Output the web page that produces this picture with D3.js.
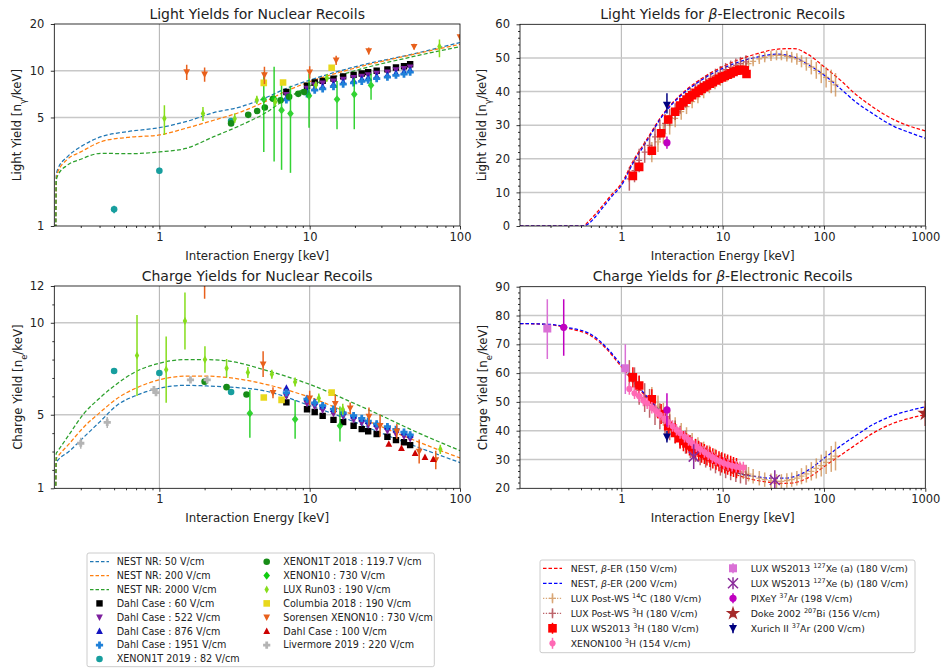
<!DOCTYPE html>
<html>
<head>
<meta charset="utf-8">
<script src="https://cdn.jsdelivr.net/npm/d3@7"></script>
<style>
  body { margin: 0; background: #fff; }
  svg { font-family: "DejaVu Sans", sans-serif; }
</style>
</head>
<body>
<svg width="941" height="671"></svg>
<script>
const svg = d3.select('svg');

// ---------------- NEST model curves ----------------
const nrLyE = [0.2045, 0.206, 0.21, 0.245, 0.30, 0.41, 0.61, 1.0, 1.5, 2.3, 3.5, 5, 7, 10, 20, 50, 100];
const nestNr50Ly = [0.8, 2.1, 2.3, 2.8, 3.24, 3.76, 4.05, 4.3, 4.7, 5.37, 5.87, 6.64, 7.7, 8.7, 10.6, 12.9, 15.2];
const nestNr200Ly = [0.8, 2.0, 2.2, 2.69, 3.0, 3.49, 3.72, 3.86, 4.26, 4.8, 5.44, 6.3, 7.4, 8.5, 10.4, 12.8, 14.8];
const nestNr2000Ly = [0.8, 1.95, 2.1, 2.47, 2.69, 2.94, 2.92, 3.0, 3.16, 3.76, 4.47, 5.3, 6.6, 7.96, 10.0, 12.4, 14.3];

const nrQyE = [0.2045, 0.206, 0.21, 0.25, 0.316, 0.4, 0.526, 0.7, 1.0, 1.5, 2.0, 3.0, 5.0, 10, 20, 30, 50, 100];
const nestNr50Qy = [0.8, 2.4, 2.5, 3.0, 3.8, 4.6, 5.53, 6.05, 6.44, 6.6, 6.57, 6.5, 6.3, 5.5, 4.6, 4.0, 3.3, 2.4];
const nestNr200Qy = [0.8, 2.6, 2.7, 3.4, 4.35, 5.1, 5.9, 6.45, 6.9, 7.1, 7.1, 7.0, 6.67, 5.95, 4.95, 4.35, 3.6, 2.65];
const nestNr2000Qy = [0.8, 2.9, 3.0, 3.9, 5.08, 5.9, 6.7, 7.35, 7.8, 8.0, 8.0, 7.9, 7.44, 6.65, 5.6, 4.95, 4.1, 3.05];

const erLyE = [0.1, 0.42, 0.47, 0.55, 0.65, 0.8, 1.0, 1.3, 1.77, 2.58, 3.77, 5.5, 10, 21.6, 35, 50, 70, 100, 150, 200, 300, 500, 700, 1000];
const nestEr150Ly = [0, 0, 1.2, 3.4, 6.0, 9.3, 12.6, 19.2, 25.6, 33.3, 38.8, 42.8, 47.4, 51.2, 52.6, 52.8, 51, 47.4, 43.0, 39.5, 35.5, 31.5, 29.7, 28.3];
const nestEr200Ly = [0, 0, 0.6, 2.6, 5.3, 8.7, 12.0, 18.6, 25.1, 33, 38.5, 42.4, 46.9, 50.2, 51.1, 50.3, 48, 44.9, 40.5, 37.2, 33.5, 29.5, 27.8, 26.1];

const erQyE = [0.1, 0.2, 0.3, 0.5, 0.7, 1.0, 1.5, 2.0, 3.0, 5.0, 7.0, 10, 15, 20, 30, 40, 50, 70, 100, 150, 200, 300, 500, 700, 1000];
const nestEr150Qy = [77.2, 76.8, 75.5, 73.0, 68.7, 62.2, 54.5, 49.5, 43.0, 35.0, 30.6, 27.0, 24.2, 23.0, 22.0, 21.7, 21.9, 23.7, 27.5, 31.8, 34.8, 39.0, 42.8, 44.3, 45.6];
const nestEr200Qy = [77.2, 76.9, 75.8, 73.5, 69.2, 62.8, 55.0, 50.0, 43.5, 35.5, 31.2, 27.6, 25.0, 24.2, 23.5, 23.5, 24.0, 26.3, 30.4, 35.0, 38.0, 42.0, 45.5, 47.0, 48.3];

// ---------------- nuclear recoil data ----------------
const dahlE = [7.0, 9.6, 10.8, 12.2, 14.4, 16.7, 19.6, 22.2, 24.5, 27.9, 32.9, 37.5, 42.4, 46.6];
const dahl60Ly = [7.3, 8.0, 8.4, 8.6, 8.9, 9.2, 9.4, 9.6, 9.8, 10.0, 10.2, 10.5, 10.7, 11.0];
const dahl522Ly = [7.0, 7.7, 8.1, 8.3, 8.55, 8.8, 9.0, 9.2, 9.4, 9.6, 9.8, 10.1, 10.3, 10.55];
const dahl876Ly = [6.7, 7.4, 7.7, 7.9, 8.2, 8.45, 8.65, 8.85, 9.0, 9.2, 9.4, 9.65, 9.85, 10.1];
const dahl1951Ly = [6.5, 7.1, 7.5, 7.65, 7.9, 8.2, 8.35, 8.55, 8.7, 8.9, 9.1, 9.35, 9.5, 9.8];
const dahl60Qy = [5.67, 5.3, 5.15, 4.94, 4.72, 4.6, 4.4, 4.22, 4.1, 3.95, 3.8, 3.62, 3.5, 3.35];
const dahl522Qy = [6.0, 5.6, 5.45, 5.25, 5.05, 4.9, 4.72, 4.55, 4.43, 4.28, 4.12, 3.95, 3.82, 3.68];
const dahl876Qy = [6.45, 5.9, 5.7, 5.5, 5.3, 5.15, 4.95, 4.78, 4.65, 4.5, 4.35, 4.18, 4.05, 3.9];
const dahl1951Qy = [6.2, 5.85, 5.65, 5.5, 5.3, 5.1, 4.95, 4.8, 4.65, 4.5, 4.35, 4.2, 4.05, 3.9];

const x1t19E = [0.5, 1.0, 3.0];
const x1t19Ly = [1.28, 2.27, 4.75];
const x1t19LyErr = [0.07, 0.1, 0.2];
const x1t19Qy = [7.38, 7.27, 6.24];

const x1t18LyE = [3.0, 3.9, 4.47, 5.03, 5.7, 6.4, 7.3, 8.4, 9.2];
const x1t18Ly = [4.58, 5.2, 5.5, 5.8, 6.6, 6.45, 6.8, 7.1, 7.3];
const x1t18QyE = [2.0, 2.8, 3.8];
const x1t18Qy = [6.8, 6.5, 6.1];

const xe10LyE = [4.95, 5.8, 6.5, 7.45, 9.9, 15.2, 19.8, 25.6];
const xe10Ly = [6.54, 6.6, 5.57, 5.3, 6.9, 6.54, 7.05, 8.05];
const xe10LyLo = [3.0, 2.6, 2.3, 2.2, 4.3, 4.2, 4.2, 6.5];
const xe10LyHi = [9.8, 10.6, 8.4, 8.0, 9.6, 8.6, 9.0, 9.6];
const xe10QyE = [4.0, 8.0, 15.9];
const xe10Qy = [5.08, 4.75, 4.4];
const xe10QyLo = [3.75, 3.7, 3.55];
const xe10QyHi = [6.35, 5.8, 5.45];

const luxR3LyE = [1.08, 1.95, 3.17, 4.45, 5.9, 11.0, 13.0, 73];
const luxR3Ly = [4.93, 5.3, 4.9, 6.47, 6.3, 8.08, 9.0, 14.3];
const luxR3LyLo = [3.85, 4.75, 4.6, 6.1, 5.9, 7.7, 8.5, 12.2];
const luxR3LyHi = [6.0, 5.85, 5.3, 6.9, 6.7, 8.5, 9.5, 15.9];
const luxR3QyE = [0.71, 1.11, 1.48, 2.01, 2.8, 3.88, 5.6, 8.0, 11.5, 16.6, 74];
const luxR3Qy = [8.22, 7.45, 10.1, 8.0, 7.53, 7.3, 7.2, 6.78, 5.9, 5.3, 3.12];
const luxR3QyErr = [2.2, 1.8, 1.55, 0.72, 0.5, 0.3, 0.25, 0.25, 0.25, 0.3, 0.25];

const columbiaLyE = [4.95, 6.65, 14];
const columbiaLy = [8.35, 8.4, 10.45];
const columbiaQyE = [4.95, 6.5, 14];
const columbiaQy = [5.94, 5.81, 6.2];

const sorensenLyE = [1.52, 2.0, 5.0, 10, 15, 24.7, 49.5, 100];
const sorensenLy = [9.83, 9.5, 9.4, 9.8, 11.7, 13.4, 14.3, 16.5];
const sorensenLyErr = [1.1, 1.0, 1.2, 0.9, 0.8, 0.7, 0.6, 0.6];
const sorensenQyE = [2.0, 4.9, 5.7, 10.0, 14.8, 18.6, 24.8, 29.4, 38, 53.5, 69];
const sorensenQy = [12.6, 7.75, 6.2, 5.9, 5.6, 5.36, 4.9, 4.4, 4.1, 3.0, 2.54];
const sorensenQyErr = [1.3, 0.7, 0.3, 0.4, 0.5, 0.3, 0.5, 0.6, 0.4, 0.65, 0.5];

const dahl100QyE = [33.6, 40.8, 50.3, 58.5, 66.4];
const dahl100Qy = [3.41, 3.18, 2.9, 2.69, 2.58];

const livermoreQyE = [0.30, 0.45, 0.92, 0.95, 1.61, 2.08];
const livermoreQy = [3.45, 4.58, 6.36, 6.2, 6.9, 6.9];
const livermoreQyErr = [0.3, 0.3, 0.15, 0.15, 0.1, 0.1];

// ---------------- electronic recoil data ----------------
const c14E = [2, 2.3, 2.6, 3, 3.4, 3.9, 4.4, 5, 5.7, 6.5, 7.4, 8.4, 9.5, 11, 12.5, 14, 16, 18, 20, 23, 26, 30, 34, 38, 43, 48, 54, 60, 67, 75, 84, 94, 105, 118, 130];
const c14Ly = [22, 25, 27.5, 30, 32, 34, 35.5, 37, 38.5, 40, 41.3, 42.5, 43.5, 44.5, 45.5, 46.5, 47.5, 48.3, 49, 49.7, 50.2, 50.6, 50.8, 50.8, 50.5, 50.2, 49.7, 49, 48.2, 47.3, 46.3, 45.3, 44.2, 43, 42];
const c14LyErr = [3, 3, 3, 2.8, 2.6, 2.4, 2.2, 2, 2, 2, 1.8, 1.8, 1.8, 1.6, 1.6, 1.6, 1.5, 1.5, 1.5, 1.5, 1.5, 1.5, 1.5, 1.5, 1.6, 1.6, 1.7, 1.8, 2, 2.2, 2.5, 2.8, 3, 3.5, 3.5];
const c14Qy = [51.2, 48.2, 45.7, 43.2, 41.2, 39.2, 37.7, 36.2, 34.7, 33.2, 31.9, 30.7, 29.7, 28.7, 27.7, 26.7, 25.7, 24.9, 24.2, 23.5, 23.0, 22.6, 22.4, 22.4, 22.7, 23.0, 23.5, 24.2, 25.0, 25.9, 26.9, 27.9, 29.0, 30.2, 31.2];
const c14QyErr = [4, 4, 4, 4, 3.5, 3.5, 3.5, 3, 3, 3, 3, 3, 2.5, 2.5, 2.5, 2.5, 2.5, 2.5, 2.5, 2.5, 2.5, 2.5, 2.5, 2.5, 2.5, 2.5, 2.5, 2.8, 3, 3.2, 3.5, 3.8, 4, 4.5, 5];

const h3pE = [1.2, 1.35, 1.5, 1.7, 1.9, 2.15, 2.4, 2.7, 3.0, 3.4, 3.8, 4.3, 4.8, 5.4, 6.0, 6.8, 7.6, 8.5, 9.5, 10.7, 12, 13.5, 15, 17];
const h3pLy = [14, 16.5, 19.5, 22, 24, 26.5, 28.5, 30.5, 32.3, 34, 35.8, 37.5, 39, 40.3, 41.5, 42.8, 43.8, 44.8, 45.6, 46.5, 47.2, 47.8, 48.3, 48.8];
const h3pLyErr = [3.5, 3.5, 3.5, 3.2, 3, 3, 3, 2.8, 2.6, 2.5, 2.4, 2.3, 2.2, 2.1, 2, 2, 2, 2, 2, 2, 2, 2, 2, 2];
const h3pQy = [59.5, 57, 54, 51.5, 49.5, 47, 45, 43, 41.2, 39.5, 37.7, 36, 34.5, 33.2, 32, 30.7, 29.7, 28.7, 27.9, 27, 26.3, 25.7, 25.2, 24.7];
const h3pQyErr = [5, 5, 5, 5, 5, 5, 4.5, 4.5, 4.5, 4, 4, 4, 4, 4, 4, 3.5, 3.5, 3.5, 3.5, 3.5, 3.5, 3.5, 3.5, 3.5];

const t13LyE = [1.3, 1.5, 2.0, 2.47, 2.9, 3.4, 3.8, 4.1, 4.4, 4.7, 5.0, 5.4, 5.8, 6.2, 6.6, 7.0, 7.5, 8.0, 8.6, 9.2, 9.8, 10.5, 11.2, 12, 12.8, 13.7, 14.6, 15.6, 16.5, 17.2];
const t13Ly = [14.9, 17.6, 22.4, 27.6, 31.7, 34, 35.8, 36.8, 37.6, 38.3, 38.9, 39.6, 40.2, 40.8, 41.3, 41.8, 42.3, 42.8, 43.3, 43.8, 44.2, 44.6, 45, 45.4, 45.8, 46.2, 46.4, 46.5, 46.3, 45.2];
const t13QyE = [1.3, 1.5, 2.0, 2.47, 2.9, 3.4, 3.8, 4.1, 4.4, 4.7, 5.0, 5.4, 5.8, 6.2, 6.6, 7.0, 7.5, 8.0, 8.6, 9.2, 9.8, 10.5, 11.2, 12, 12.8, 13.7];
const t13Qy = [58.5, 55.7, 50.9, 45.8, 41.6, 39.2, 37.4, 36.4, 35.6, 34.9, 34.3, 33.6, 33.0, 32.4, 31.9, 31.4, 30.9, 30.4, 29.9, 29.4, 29.0, 28.6, 28.2, 27.8, 27.4, 27.0];

const x100E = [1.2, 1.35, 1.5, 1.65, 1.8, 2.0, 2.2, 2.4, 2.65, 2.9, 3.2, 3.5, 3.8, 4.2, 4.6, 5.0, 5.5, 6.0, 6.6, 7.2, 7.9, 8.6, 9.4, 10.3, 11.3, 12.4, 13.6, 14.8, 16];
const x100Qy = [54.5, 53, 52, 50.5, 49.5, 48, 46.8, 45.5, 44.2, 43, 41.6, 40.3, 39.2, 37.9, 36.8, 35.7, 34.6, 33.6, 32.6, 31.7, 30.8, 30.0, 29.3, 28.7, 28.2, 27.8, 27.5, 27.3, 27.2];

const xe127aE = [0.186, 1.095];
const xe127aQy = [75.5, 61.7];
const xe127aLo = [64.9, 52.7];
const xe127aHi = [85.6, 70];
const xe127bE = [5.18, 32.7];
const xe127bQy = [31.0, 22.9];
const xe127bErr = [4.3, 3.4];

const pixeyLyE = [2.82];
const pixeyLy = [24.8];
const pixeyLyErr = [1.8];
const pixeyQyE = [0.27, 2.82];
const pixeyQy = [75.9, 47.2];
const pixeyQyLo = [66, 41.4];
const pixeyQyHi = [85.6, 53];

const dokeE = [1000];
const dokeQy = [46];
const dokeErr = [4.4];

const xurichE = [2.82];
const xurichLy = [36];
const xurichLyLo = [33.5];
const xurichLyHi = [39.5];
const xurichQy = [37.9];
const xurichQyErr = [2];

// ---------------- helpers ----------------
function markerPath(shape, r) {
  switch (shape) {
    case 'square': return `M${-r},${-r}H${r}V${r}H${-r}Z`;
    case 'circle': return d3.symbol(d3.symbolCircle, Math.PI * r * r)();
    case 'triUp': return `M0,${-r * 1.1}L${r},${r * 0.8}L${-r},${r * 0.8}Z`;
    case 'triDown': return `M0,${r * 1.1}L${r},${-r * 0.8}L${-r},${-r * 0.8}Z`;
    case 'diamond': return `M0,${-r * 1.25}L${r},0L0,${r * 1.25}L${-r},0Z`;
    case 'thinDiamond': return `M0,${-r * 1.2}L${r * 0.65},0L0,${r * 1.2}L${-r * 0.65},0Z`;
    case 'plusFilled': {
      const w = r / 2.6;
      return `M${-w},${-r}H${w}V${-w}H${r}V${w}H${w}V${r}H${-w}V${w}H${-r}V${-w}H${-w}Z`;
    }
    case 'star': return d3.symbol(d3.symbolStar, r * r * 2.6)();
    case 'x': return `M${-r},${-r}L${r},${r}M${-r},${r}L${r},${-r}`;
    case 'plus': return `M${-r},0H${r}M0,${-r}V${r}`;
  }
}
const strokeShapes = ['x', 'plus'];

function drawSet(g, sx, sy, e, v, s) {
  const grp = g.append('g').attr('opacity', s.opacity || 1);
  if (s.err || s.lo) {
    grp.selectAll(null).data(e).join('line')
      .attr('x1', d => sx(d)).attr('x2', d => sx(d))
      .attr('y1', (d, i) => sy(s.lo ? s.lo[i] : v[i] - s.err[i]))
      .attr('y2', (d, i) => sy(s.hi ? s.hi[i] : v[i] + s.err[i]))
      .attr('stroke', s.color)
      .attr('stroke-width', s.bw || 1.5);
  }
  const stroke = strokeShapes.includes(s.shape);
  grp.selectAll(null).data(e).join('path')
    .attr('transform', (d, i) => `translate(${sx(d)},${sy(v[i])})`)
    .attr('d', markerPath(s.shape, s.r))
    .attr('fill', stroke ? 'none' : s.color)
    .attr('stroke', stroke ? s.color : 'none')
    .attr('stroke-width', stroke ? (s.sw || 1.3) : 0);
}

function drawCurve(g, sx, sy, e, v, color, dash) {
  const line = d3.line()
    .x(d => sx(d[0]))
    .y(d => sy(d[1]))
    .curve(d3.curveMonotoneX);
  g.append('path')
    .datum(e.map((d, i) => [d, v[i]]))
    .attr('d', line)
    .attr('fill', 'none')
    .attr('stroke', color)
    .attr('stroke-width', 1.25)
    .attr('stroke-dasharray', dash);
}

let clipId = 0;
function panel(o) {
  const sx = d3.scaleLog().domain(o.xDomain).range([o.x0, o.x1]);
  const sy = (o.yLog ? d3.scaleLog() : d3.scaleLinear()).domain(o.yDomain).range([o.y1, o.y0]);

  const g = svg.append('g');

  // grid
  const grid = g.append('g');
  grid.selectAll(null).data(o.gridX).join('line')
    .attr('x1', d => sx(d)).attr('x2', d => sx(d))
    .attr('y1', o.y0).attr('y2', o.y1)
    .attr('stroke', '#b0b0b0').attr('stroke-width', 1);
  grid.selectAll(null).data(o.gridY).join('line')
    .attr('x1', o.x0).attr('x2', o.x1)
    .attr('y1', d => sy(d)).attr('y2', d => sy(d))
    .attr('stroke', '#c8c8c8').attr('stroke-width', 1.5);

  // clipped plot area
  const id = 'clip' + (clipId++);
  g.append('clipPath').attr('id', id)
    .append('rect')
    .attr('x', o.x0).attr('y', o.y0)
    .attr('width', o.x1 - o.x0).attr('height', o.y1 - o.y0);
  const plot = g.append('g').attr('clip-path', `url(#${id})`);

  // axes
  const styleAxis = (ax) => {
    ax.select('.domain').remove();
    ax.attr('font-family', '"DejaVu Sans", sans-serif').attr('font-size', 11.5);
    ax.selectAll('line').attr('stroke', '#000').attr('stroke-width', 0.8);
    ax.selectAll('text').attr('fill', '#222');
  };
  const axX = g.append('g').attr('transform', `translate(0,${o.y1})`)
    .call(d3.axisBottom(sx).tickValues(o.xMajor).tickSize(3.5).tickPadding(3.5).tickFormat(d3.format('~g')));
  styleAxis(axX);
  const axXm = g.append('g').attr('transform', `translate(0,${o.y1})`)
    .call(d3.axisBottom(sx).tickValues(o.xMinor).tickSize(2).tickFormat(''));
  styleAxis(axXm);
  const axY = g.append('g').attr('transform', `translate(${o.x0},0)`)
    .call(d3.axisLeft(sy).tickValues(o.yMajor).tickSize(3.5).tickPadding(6.5).tickFormat(d3.format('~g')));
  styleAxis(axY);
  if (o.yMinor.length) {
    const axYm = g.append('g').attr('transform', `translate(${o.x0},0)`)
      .call(d3.axisLeft(sy).tickValues(o.yMinor).tickSize(2).tickFormat(''));
    styleAxis(axYm);
  }

  // title
  const t = g.append('text')
    .attr('x', (o.x0 + o.x1) / 2).attr('y', o.y0 - 5.5)
    .attr('text-anchor', 'middle').attr('font-size', 14).attr('fill', '#222');
  o.title.forEach(seg => {
    const ts = t.append('tspan').text(seg[0]);
    if (seg[1] === 'i') ts.attr('font-style', 'italic');
  });

  // x label
  g.append('text')
    .attr('x', (o.x0 + o.x1) / 2).attr('y', o.y1 + 33.5)
    .attr('text-anchor', 'middle').attr('font-size', 11.8).attr('fill', '#222')
    .text('Interaction Energy [keV]');

  // y label
  const yl = g.append('text')
    .attr('transform', `translate(${o.ylx},${(o.y0 + o.y1) / 2}) rotate(-90)`)
    .attr('dy', '0.35em')
    .attr('text-anchor', 'middle').attr('font-size', 11.8).attr('fill', '#222');
  yl.append('tspan').text(o.ylabel[0] + ' [n');
  yl.append('tspan').text(o.ylabel[1]).attr('baseline-shift', 'sub').attr('font-size', 8.3);
  yl.append('tspan').text('/keV]');

  const frame = g.append('rect')
    .attr('x', o.x0).attr('y', o.y0)
    .attr('width', o.x1 - o.x0).attr('height', o.y1 - o.y0)
    .attr('fill', 'none').attr('stroke', '#000').attr('stroke-width', 0.8);

  return { sx, sy, plot, g, frame };
}

const minorNr = [0.3, 0.4, 0.5, 0.6, 0.7, 0.8, 0.9, 2, 3, 4, 5, 6, 7, 8, 9, 20, 30, 40, 50, 60, 70, 80, 90];
const minorEr = [0.2, 0.3, 0.4, 0.5, 0.6, 0.7, 0.8, 0.9, 2, 3, 4, 5, 6, 7, 8, 9, 20, 30, 40, 50, 60, 70, 80, 90,
  200, 300, 400, 500, 600, 700, 800, 900];

// ---------------- panels ----------------
const tl = panel({
  x0: 54.3, x1: 460, y0: 24, y1: 226,
  xDomain: [0.2, 100], yDomain: [1, 20], yLog: true,
  xMajor: [1, 10, 100], xMinor: minorNr,
  yMajor: [1, 5, 10, 20], yMinor: [],
  gridX: [1, 10], gridY: [5, 10],
  title: [['Light Yields for Nuclear Recoils']],
  ylabel: ['Light Yield', 'γ'], ylx: 17
});
const bl = panel({
  x0: 54.3, x1: 460, y0: 286, y1: 488.3,
  xDomain: [0.2, 100], yDomain: [1, 12], yLog: false,
  xMajor: [1, 10, 100], xMinor: minorNr,
  yMajor: [1, 5, 10, 12], yMinor: [2, 3, 4, 6, 7, 8, 9, 11],
  gridX: [1, 10], gridY: [5, 10],
  title: [['Charge Yields for Nuclear Recoils']],
  ylabel: ['Charge Yield', 'e'], ylx: 17.5
});
const tr = panel({
  x0: 520, x1: 925.3, y0: 24.3, y1: 226,
  xDomain: [0.1, 1000], yDomain: [0, 60], yLog: false,
  xMajor: [1, 10, 100, 1000], xMinor: minorEr,
  yMajor: [0, 10, 20, 30, 40, 50, 60], yMinor: d3.range(2, 60, 2).filter(d => d % 10),
  gridX: [1, 10, 100], gridY: [10, 20, 30, 40, 50],
  title: [['Light Yields for '], ['β', 'i'], ['-Electronic Recoils']],
  ylabel: ['Light Yield', 'γ'], ylx: 482
});
const br = panel({
  x0: 520, x1: 925.3, y0: 286.7, y1: 488.3,
  xDomain: [0.1, 1000], yDomain: [20, 90], yLog: false,
  xMajor: [1, 10, 100, 1000], xMinor: minorEr,
  yMajor: [20, 30, 40, 50, 60, 70, 80, 90], yMinor: d3.range(22, 90, 2).filter(d => d % 10),
  gridX: [1, 10, 100], gridY: [30, 40, 50, 60, 70, 80],
  title: [['Charge Yields for '], ['β', 'i'], ['-Electronic Recoils']],
  ylabel: ['Charge Yield', 'e'], ylx: 482.5
});

// ---------------- styles ----------------
const C = {
  nest50: '#1f77b4', nest200: '#ff7f0e', nest2000: '#2ca02c',
  dahl60: '#000000', dahl522: '#7d1f9e', dahl876: '#1515c0', dahl1951: '#1f80d8',
  x1t19: '#179e9e', x1t18: '#178c17', xe10: '#10cc10', luxR3: '#86dd1c',
  columbia: '#e8d81c', sorensen: '#e8601c', dahl100: '#cc0000', livermore: '#b4b4b4',
  er150: '#ff0000', er200: '#0000ff', c14: '#cd8a4a', h3p: '#a8323a', t13: '#ff0000',
  x100: '#ff69b4', xe127a: '#da70d6', xe127b: '#8a2a9a', pixey: '#c000c0', doke: '#a52a2a', xurich: '#000080'
};
const S = {
  dahl60: { color: C.dahl60, shape: 'square', r: 3.2 },
  dahl522: { color: C.dahl522, shape: 'triDown', r: 3.4 },
  dahl876: { color: C.dahl876, shape: 'triUp', r: 3.4 },
  dahl1951: { color: C.dahl1951, shape: 'plusFilled', r: 3.6 },
  x1t19: { color: C.x1t19, shape: 'circle', r: 3.3 },
  x1t18: { color: C.x1t18, shape: 'circle', r: 3.3 },
  xe10: { color: C.xe10, shape: 'diamond', r: 3.3 },
  luxR3: { color: C.luxR3, shape: 'thinDiamond', r: 3.4 },
  columbia: { color: C.columbia, shape: 'square', r: 3.3 },
  sorensen: { color: C.sorensen, shape: 'triDown', r: 3.4 },
  dahl100: { color: C.dahl100, shape: 'triUp', r: 3.4 },
  livermore: { color: C.livermore, shape: 'plusFilled', r: 3.6 },
  c14: { color: C.c14, shape: 'plus', r: 3, opacity: 0.75 },
  h3p: { color: C.h3p, shape: 'plus', r: 3, opacity: 0.75 },
  t13: { color: C.t13, shape: 'square', r: 4.3 },
  x100: { color: C.x100, shape: 'circle', r: 3.1 },
  xe127a: { color: C.xe127a, shape: 'square', r: 4 },
  xe127b: { color: C.xe127b, shape: 'x', r: 5, sw: 1.5 },
  pixey: { color: C.pixey, shape: 'circle', r: 3.6 },
  doke: { color: C.doke, shape: 'star', r: 5.5 },
  xurich: { color: C.xurich, shape: 'triDown', r: 4 }
};
const withErr = (s, extra) => Object.assign({}, s, extra);

// ---------------- top-left: NR light ----------------
drawCurve(tl.plot, tl.sx, tl.sy, nrLyE, nestNr50Ly, C.nest50, '4,2.2');
drawCurve(tl.plot, tl.sx, tl.sy, nrLyE, nestNr200Ly, C.nest200, '4,2.2');
drawCurve(tl.plot, tl.sx, tl.sy, nrLyE, nestNr2000Ly, C.nest2000, '4,2.2');
drawSet(tl.plot, tl.sx, tl.sy, dahlE, dahl60Ly, S.dahl60);
drawSet(tl.plot, tl.sx, tl.sy, dahlE, dahl522Ly, S.dahl522);
drawSet(tl.plot, tl.sx, tl.sy, dahlE, dahl876Ly, S.dahl876);
drawSet(tl.plot, tl.sx, tl.sy, dahlE, dahl1951Ly, S.dahl1951);
drawSet(tl.plot, tl.sx, tl.sy, x1t19E, x1t19Ly, withErr(S.x1t19, { err: x1t19LyErr }));
drawSet(tl.plot, tl.sx, tl.sy, x1t18LyE, x1t18Ly, S.x1t18);
drawSet(tl.plot, tl.sx, tl.sy, xe10LyE, xe10Ly, withErr(S.xe10, { lo: xe10LyLo, hi: xe10LyHi, opacity: 0.85 }));
drawSet(tl.plot, tl.sx, tl.sy, luxR3LyE, luxR3Ly, withErr(S.luxR3, { lo: luxR3LyLo, hi: luxR3LyHi }));
drawSet(tl.plot, tl.sx, tl.sy, columbiaLyE, columbiaLy, S.columbia);
drawSet(tl.plot, tl.sx, tl.sy, sorensenLyE, sorensenLy, withErr(S.sorensen, { err: sorensenLyErr }));

// ---------------- bottom-left: NR charge ----------------
drawCurve(bl.plot, bl.sx, bl.sy, nrQyE, nestNr50Qy, C.nest50, '4,2.2');
drawCurve(bl.plot, bl.sx, bl.sy, nrQyE, nestNr200Qy, C.nest200, '4,2.2');
drawCurve(bl.plot, bl.sx, bl.sy, nrQyE, nestNr2000Qy, C.nest2000, '4,2.2');
drawSet(bl.plot, bl.sx, bl.sy, dahlE, dahl60Qy, S.dahl60);
drawSet(bl.plot, bl.sx, bl.sy, dahlE, dahl522Qy, S.dahl522);
drawSet(bl.plot, bl.sx, bl.sy, dahlE, dahl876Qy, S.dahl876);
drawSet(bl.plot, bl.sx, bl.sy, dahlE, dahl1951Qy, S.dahl1951);
drawSet(bl.plot, bl.sx, bl.sy, x1t19E, x1t19Qy, S.x1t19);
drawSet(bl.plot, bl.sx, bl.sy, x1t18QyE, x1t18Qy, S.x1t18);
drawSet(bl.plot, bl.sx, bl.sy, xe10QyE, xe10Qy, withErr(S.xe10, { lo: xe10QyLo, hi: xe10QyHi, opacity: 0.85 }));
drawSet(bl.plot, bl.sx, bl.sy, luxR3QyE, luxR3Qy, withErr(S.luxR3, { err: luxR3QyErr }));
drawSet(bl.plot, bl.sx, bl.sy, columbiaQyE, columbiaQy, S.columbia);
drawSet(bl.plot, bl.sx, bl.sy, sorensenQyE, sorensenQy, withErr(S.sorensen, { err: sorensenQyErr }));
drawSet(bl.plot, bl.sx, bl.sy, dahl100QyE, dahl100Qy, S.dahl100);
drawSet(bl.plot, bl.sx, bl.sy, livermoreQyE, livermoreQy, withErr(S.livermore, { err: livermoreQyErr }));

// ---------------- top-right: ER light ----------------
drawCurve(tr.plot, tr.sx, tr.sy, erLyE, nestEr150Ly, C.er150, '3.5,2');
drawCurve(tr.plot, tr.sx, tr.sy, erLyE, nestEr200Ly, C.er200, '3.5,2');
drawSet(tr.plot, tr.sx, tr.sy, c14E, c14Ly, withErr(S.c14, { err: c14LyErr }));
drawSet(tr.plot, tr.sx, tr.sy, h3pE, h3pLy, withErr(S.h3p, { err: h3pLyErr }));
drawSet(tr.plot, tr.sx, tr.sy, t13LyE, t13Ly, withErr(S.t13, { err: t13LyE.map(() => 1.2) }));
drawSet(tr.plot, tr.sx, tr.sy, pixeyLyE, pixeyLy, withErr(S.pixey, { err: pixeyLyErr }));
drawSet(tr.plot, tr.sx, tr.sy, xurichE, xurichLy, withErr(S.xurich, { lo: xurichLyLo, hi: xurichLyHi }));

// ---------------- bottom-right: ER charge ----------------
drawCurve(br.plot, br.sx, br.sy, erQyE, nestEr150Qy, C.er150, '3.5,2');
drawCurve(br.plot, br.sx, br.sy, erQyE, nestEr200Qy, C.er200, '3.5,2');
drawSet(br.plot, br.sx, br.sy, c14E, c14Qy, withErr(S.c14, { err: c14QyErr }));
drawSet(br.plot, br.sx, br.sy, h3pE, h3pQy, withErr(S.h3p, { err: h3pQyErr }));
drawSet(br.plot, br.sx, br.sy, t13QyE, t13Qy, withErr(S.t13, { err: t13QyE.map(() => 3.5) }));
drawSet(br.plot, br.sx, br.sy, x100E, x100Qy, withErr(S.x100, { err: x100E.map(() => 2) }));
drawSet(br.plot, br.sx, br.sy, xe127aE, xe127aQy, withErr(S.xe127a, { lo: xe127aLo, hi: xe127aHi }));
drawSet(br.plot, br.sx, br.sy, xe127bE, xe127bQy, withErr(S.xe127b, { err: xe127bErr }));
drawSet(br.plot, br.sx, br.sy, pixeyQyE, pixeyQy, withErr(S.pixey, { lo: pixeyQyLo, hi: pixeyQyHi }));
drawSet(br.plot, br.sx, br.sy, dokeE, dokeQy, withErr(S.doke, { err: dokeErr }));
drawSet(br.plot, br.sx, br.sy, xurichE, xurichQy, withErr(S.xurich, { err: xurichQyErr }));

// ---------------- legends ----------------
function legend(box, rows, fontSize) {
  const g = svg.append('g');
  g.append('rect')
    .attr('x', box.x).attr('y', box.y).attr('width', box.w).attr('height', box.h)
    .attr('rx', 2).attr('fill', '#fff').attr('stroke', '#cccccc').attr('stroke-width', 1);
  rows.forEach(r => {
    const hx = r.mx, hy = r.y;
    if (r.line) {
      g.append('line')
        .attr('x1', hx - 9.5).attr('x2', hx + 9.5).attr('y1', hy).attr('y2', hy)
        .attr('stroke', r.line).attr('stroke-width', 1.25).attr('stroke-dasharray', '3.5,2');
    } else {
      const s = r.style;
      const mg = g.append('g').attr('opacity', s.opacity || 1);
      if (r.dotted) {
        mg.append('line').attr('x1', hx - 9.5).attr('x2', hx + 9.5).attr('y1', hy).attr('y2', hy)
          .attr('stroke', s.color).attr('stroke-width', 1.3).attr('stroke-dasharray', '1.3,1.5');
      }
      if (r.bar) {
        mg.append('line').attr('x1', hx).attr('x2', hx).attr('y1', hy - r.bar).attr('y2', hy + r.bar)
          .attr('stroke', s.color).attr('stroke-width', 1.5);
      }
      const stroke = strokeShapes.includes(s.shape);
      mg.append('path')
        .attr('transform', `translate(${hx},${hy})`)
        .attr('d', markerPath(s.shape, r.r || s.r))
        .attr('fill', stroke ? 'none' : s.color)
        .attr('stroke', stroke ? s.color : 'none')
        .attr('stroke-width', stroke ? (s.sw || 1.3) : 0);
    }
    const t = g.append('text')
      .attr('x', r.tx).attr('y', hy).attr('dy', '0.35em')
      .attr('font-size', fontSize).attr('fill', '#222');
    r.label.forEach(seg => {
      const ts = t.append('tspan').text(seg[0]);
      if (seg[1] === 'sup') ts.attr('baseline-shift', 'super').attr('font-size', fontSize * 0.7);
      if (seg[1] === 'i') ts.attr('font-style', 'italic');
    });
  });
}

const nrLegendLabels1 = ['NEST NR: 50 V/cm', 'NEST NR: 200 V/cm', 'NEST NR: 2000 V/cm', 'Dahl Case : 60 V/cm',
  'Dahl Case : 522 V/cm', 'Dahl Case : 876 V/cm', 'Dahl Case : 1951 V/cm', 'XENON1T 2019 : 82 V/cm'];
const nrLegendLabels2 = ['XENON1T 2018 : 119.7 V/cm', 'XENON10 : 730 V/cm', 'LUX Run03 : 190 V/cm',
  'Columbia 2018 : 190 V/cm', 'Sorensen XENON10 : 730 V/cm', 'Dahl Case : 100 V/cm', 'Livermore 2019 : 220 V/cm'];
const nrHandles1 = [{ line: C.nest50 }, { line: C.nest200 }, { line: C.nest2000 }, { style: S.dahl60 },
  { style: S.dahl522 }, { style: S.dahl876 }, { style: S.dahl1951 }, { style: S.x1t19 }];
const nrHandles2 = [{ style: S.x1t18 }, { style: S.xe10 }, { style: S.luxR3 }, { style: S.columbia },
  { style: S.sorensen }, { style: S.dahl100 }, { style: S.livermore }];

const nrRows = [];
nrHandles1.forEach((h, i) => nrRows.push(Object.assign({ mx: 99.5, tx: 116.7, y: 561.7 + i * 13.9, label: [[nrLegendLabels1[i]]] }, h)));
nrHandles2.forEach((h, i) => nrRows.push(Object.assign({ mx: 266.7, tx: 283.3, y: 561.7 + i * 13.9, label: [[nrLegendLabels2[i]]] }, h)));
legend({ x: 87, y: 553, w: 347.3, h: 113.7 }, nrRows, 9.6);

const erRows1 = [
  { line: C.er150, label: [['NEST, '], ['β', 'i'], ['-ER (150 V/cm)']] },
  { line: C.er200, label: [['NEST, '], ['β', 'i'], ['-ER (200 V/cm)']] },
  { style: S.c14, dotted: true, bar: 5, r: 3.5, label: [['LUX Post-WS '], ['14', 'sup'], ['C (180 V/cm)']] },
  { style: S.h3p, dotted: true, bar: 5, r: 3.5, label: [['LUX Post-WS '], ['3', 'sup'], ['H (180 V/cm)']] },
  { style: S.t13, bar: 5.5, label: [['LUX WS2013 '], ['3', 'sup'], ['H (180 V/cm)']] },
  { style: S.x100, bar: 5.5, label: [['XENON100 '], ['3', 'sup'], ['H (154 V/cm)']] }
];
const erRows2 = [
  { style: S.xe127a, bar: 5, label: [['LUX WS2013 '], ['127', 'sup'], ['Xe (a) (180 V/cm)']] },
  { style: S.xe127b, bar: 6, label: [['LUX WS2013 '], ['127', 'sup'], ['Xe (b) (180 V/cm)']] },
  { style: S.pixey, bar: 5, label: [['PIXeY '], ['37', 'sup'], ['Ar (198 V/cm)']] },
  { style: S.doke, bar: 4, r: 5, label: [['Doke 2002 '], ['207', 'sup'], ['Bi (156 V/cm)']] },
  { style: S.xurich, bar: 5, label: [['Xurich II '], ['37', 'sup'], ['Ar (200 V/cm)']] }
];
const erRows = [];
erRows1.forEach((r, i) => erRows.push(Object.assign({ mx: 552.5, tx: 570.7, y: 568.3 + i * 15 }, r)));
erRows2.forEach((r, i) => erRows.push(Object.assign({ mx: 733, tx: 750.7, y: 568.3 + i * 15 }, r)));
legend({ x: 540, y: 560, w: 375, h: 92.7 }, erRows, 9.3);
</script>
</body>
</html>
